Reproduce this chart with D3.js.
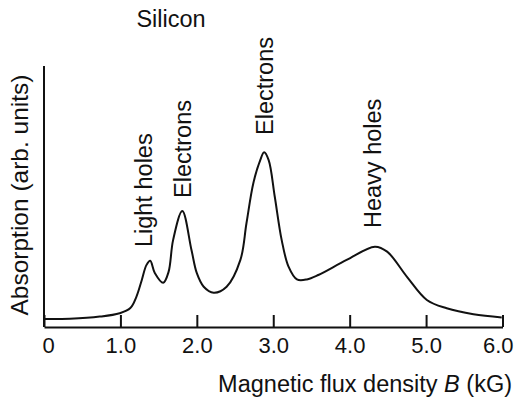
<!DOCTYPE html>
<html>
<head>
<meta charset="utf-8">
<script src="https://cdn.jsdelivr.net/npm/d3@7"></script>
<style>
  html, body { margin: 0; padding: 0; background: #fff; }
  svg { display: block; }
  text { font-family: "Liberation Sans", Arial, sans-serif; fill: #111; }
</style>
</head>
<body>
<svg id="chart" width="514" height="398"></svg>
<script>
// Magnetic flux density B (kG)
const fieldB = [0.00, 0.34, 0.73, 0.99, 1.13, 1.21, 1.28, 1.34, 1.39, 1.45, 1.56, 1.63, 1.69, 1.81, 1.93, 2.00, 2.09, 2.22, 2.39, 2.57, 2.65, 2.74, 2.83, 2.88, 2.94, 3.02, 3.11, 3.20, 3.31, 3.44, 3.59, 3.96, 4.33, 4.49, 4.75, 5.01, 5.27, 5.62, 5.99];
// Absorption (arb. units)
const absorption = [3.1, 3.2, 4.0, 5.3, 7.3, 11.7, 18.1, 23.8, 25.5, 20.8, 17.0, 21.2, 33.5, 44.6, 29.6, 20.7, 15.5, 13.2, 15.5, 25.8, 40.0, 55.4, 64.2, 67.2, 64.2, 50.1, 33.5, 23.2, 18.3, 18.3, 20.0, 25.8, 30.9, 29.0, 19.3, 10.4, 7.2, 4.9, 3.7];

const tickValues = [0, 1, 2, 3, 4, 5, 6];
const tickLabels = ["0", "1.0", "2.0", "3.0", "4.0", "5.0", "6.0"];

const peakLabels = ["Light holes", "Electrons", "Electrons", "Heavy holes"];
const peakB = [1.39, 1.81, 2.88, 4.33];

const svg = d3.select("#chart");
const x = d3.scaleLinear().domain([0, 6]).range([44, 502.5]);
const y = d3.scaleLinear().domain([0, 100]).range([327, 67]);

// title
svg.append("text").attr("x", 171).attr("y", 26.5).attr("text-anchor", "middle")
  .style("font-size", "23.5px").text("Silicon");

// y axis (line only)
svg.append("line").attr("x1", x(0)).attr("x2", x(0)).attr("y1", y(0)).attr("y2", 66)
  .attr("stroke", "#111").attr("stroke-width", 2);

// x axis
const xAxis = d3.axisBottom(x).tickValues(tickValues)
  .tickFormat((d, i) => tickLabels[i]).tickSizeInner(-12).tickSizeOuter(0);
const gx = svg.append("g").attr("transform", `translate(0,${y(0)})`).call(xAxis);
gx.select(".domain").attr("stroke", "#111").attr("stroke-width", 2);
gx.selectAll(".tick line").attr("stroke", "#111").attr("stroke-width", 2);
gx.selectAll(".tick text").attr("y", 26).attr("dy", null)
  .style("font-size", "22px").style("font-family", "'Liberation Sans', Arial, sans-serif").attr("fill", "#111");
// first label sits slightly right of its tick; last label kept inside the frame
gx.selectAll(".tick text").filter(d => d === 0).attr("x", 4);
gx.selectAll(".tick text").filter(d => d === 6).attr("text-anchor", "end").attr("x", 10.5);

// x axis title
const xt = svg.append("text").attr("x", 512).attr("y", 392).attr("text-anchor", "end")
  .style("font-size", "23.5px");
xt.append("tspan").text("Magnetic flux density ");
xt.append("tspan").style("font-style", "italic").text("B");
xt.append("tspan").text(" (kG)");

// y axis title
svg.append("text").attr("transform", "translate(28,195) rotate(-90)")
  .attr("text-anchor", "middle").style("font-size", "24.5px").text("Absorption (arb. units)");

// curve
const pts = fieldB.map((b, i) => [b, absorption[i]]);
const line = d3.line().x(d => x(d[0])).y(d => y(d[1])).curve(d3.curveCatmullRom.alpha(0.5));
svg.append("path").datum(pts).attr("d", line).attr("fill", "none")
  .attr("stroke", "#111").attr("stroke-width", 2);

// peak labels (rotated)
const labelX = [152, 191, 273, 381];
const labelY = [247, 198, 135, 228];
peakLabels.forEach((t, i) => {
  svg.append("text").attr("transform", `translate(${labelX[i]},${labelY[i]}) rotate(-90)`)
    .attr("text-anchor", "start").style("font-size", "23.5px").text(t);
});
</script>
</body>
</html>
